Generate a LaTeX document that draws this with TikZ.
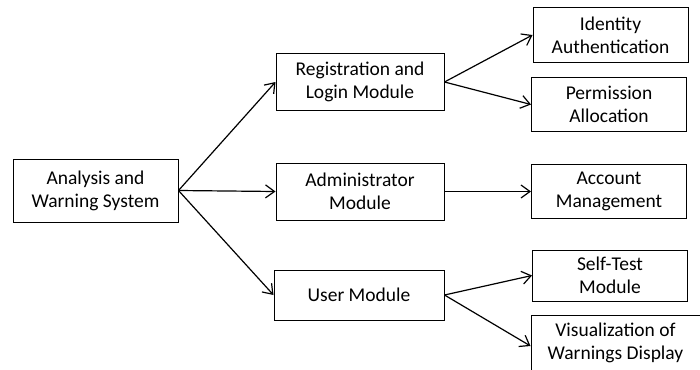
\documentclass[tikz,border=0pt]{standalone}
\usepackage{fontspec}
\setmainfont{Carlito}
\usetikzlibrary{arrows.meta, positioning}

\begin{document}
\begin{tikzpicture}[
        x=1pt, y=-1pt,
        >={Straight Barb[length=9pt,width=13pt]}, % open arrow heads
        every node/.style={font=\fontsize{19.5}{23}\selectfont, align=center},
        module/.style={draw, line width=1pt, rectangle, minimum width=168pt, minimum height=57pt, inner sep=2pt},
        leaf/.style={draw, line width=1pt, rectangle, minimum width=155pt, minimum height=54pt, inner sep=2pt},
        link/.style={->, line width=1.2pt}
    ]
    \useasboundingbox (0,0) rectangle (700,369);

    % --- Root ---
    \node[module, minimum width=165pt, minimum height=63pt] (sys) at (95.5, 190.5) {Analysis and\\Warning System};

    % --- Modules ---
    \node[module] (reg) at (360, 82) {Registration and\\Login Module};
    \node[module] (admin) at (360, 191.5) {Administrator\\Module};
    \node[module, minimum width=170pt, minimum height=50pt] (user) at (359, 295) {User Module};

    % --- Sub-functions ---
    \node[leaf] (ident) at (610.5, 35) {Identity\\Authentication};
    \node[leaf] (perm) at (609, 104.5) {Permission\\Allocation};
    \node[leaf] (acct) at (609, 191.5) {Account\\Management};
    \node[leaf, minimum height=51pt] (selftest) at (610, 275.5) {Self-Test\\Module};
    \node[leaf, minimum width=169pt, minimum height=56pt] (visual) at (615.5, 343) {Visualization of\\Warnings Display};

    % --- Edges ---
    \draw[link] (sys.east) -- (reg.west);
    \draw[link] (sys.east) -- (admin.west);
    \draw[link] (sys.east) -- (user.west);

    \draw[link] (reg.east) -- (ident.west);
    \draw[link] (reg.east) -- (perm.west);

    \draw[link] (admin.east) -- (acct.west);

    \draw[link] (user.east) -- (selftest.west);
    \draw[link] (user.east) -- ([yshift=-3pt]visual.west);

\end{tikzpicture}
\end{document}
